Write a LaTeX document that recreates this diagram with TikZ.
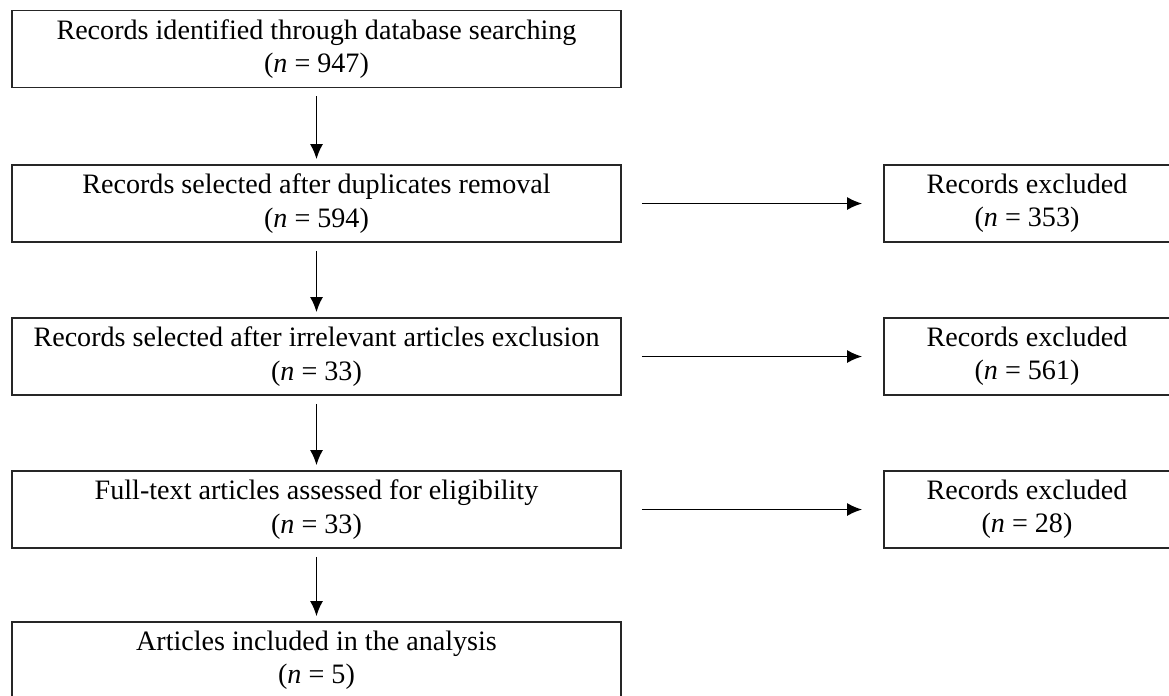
\documentclass[tikz,border=0pt]{standalone}
\usepackage{fontspec}
\setmainfont{Liberation Serif}
\usetikzlibrary{arrows.meta}

\begin{document}
\begin{tikzpicture}[
  stage/.style = {
    shape = rectangle,
    draw = black!85,
    line width = 1pt,
    minimum width = 12.18cm,
    minimum height = 1.54cm,
    inner sep = 0pt,
    align = center,
    font = \fontsize{16}{19}\selectfont
  },
  side/.style = {
    stage,
    minimum width = 5.72cm
  },
  flow/.style = {
    line width = 0.95pt,
    -{Latex[length = 0.3cm, width = 0.26cm]}
  }
]
  \useasboundingbox (0, 0) rectangle (23.38, -13.9);

  \node[stage] (ident) at (6.33, -0.98) {Records identified through database searching\\(\textit{n} = 947)};
  \node[stage] (dedup) at (6.33, -4.07) {Records selected after duplicates removal\\(\textit{n} = 594)};
  \node[stage] (screen) at (6.33, -7.13) {Records selected after irrelevant articles exclusion\\(\textit{n} = 33)};
  \node[stage] (elig) at (6.33, -10.19) {Full-text articles assessed for eligibility\\(\textit{n} = 33)};
  \node[stage] (incl) at (6.33, -13.21) {Articles included in the analysis\\(\textit{n} = 5)};

  \node[side] (excla) at (20.54, -4.07) {Records excluded\\(\textit{n} = 353)};
  \node[side] (exclb) at (20.54, -7.13) {Records excluded\\(\textit{n} = 561)};
  \node[side] (exclc) at (20.54, -10.19) {Records excluded\\(\textit{n} = 28)};

  \draw[flow, shorten < = 0.16cm, shorten > = 0.1cm] (ident) -- (dedup);
  \draw[flow, shorten < = 0.16cm, shorten > = 0.1cm] (dedup) -- (screen);
  \draw[flow, shorten < = 0.16cm, shorten > = 0.1cm] (screen) -- (elig);
  \draw[flow, shorten < = 0.16cm, shorten > = 0.1cm] (elig) -- (incl);

  \draw[flow, shorten < = 0.4cm, shorten > = 0.42cm] (dedup) -- (excla);
  \draw[flow, shorten < = 0.4cm, shorten > = 0.42cm] (screen) -- (exclb);
  \draw[flow, shorten < = 0.4cm, shorten > = 0.42cm] (elig) -- (exclc);
\end{tikzpicture}
\end{document}
